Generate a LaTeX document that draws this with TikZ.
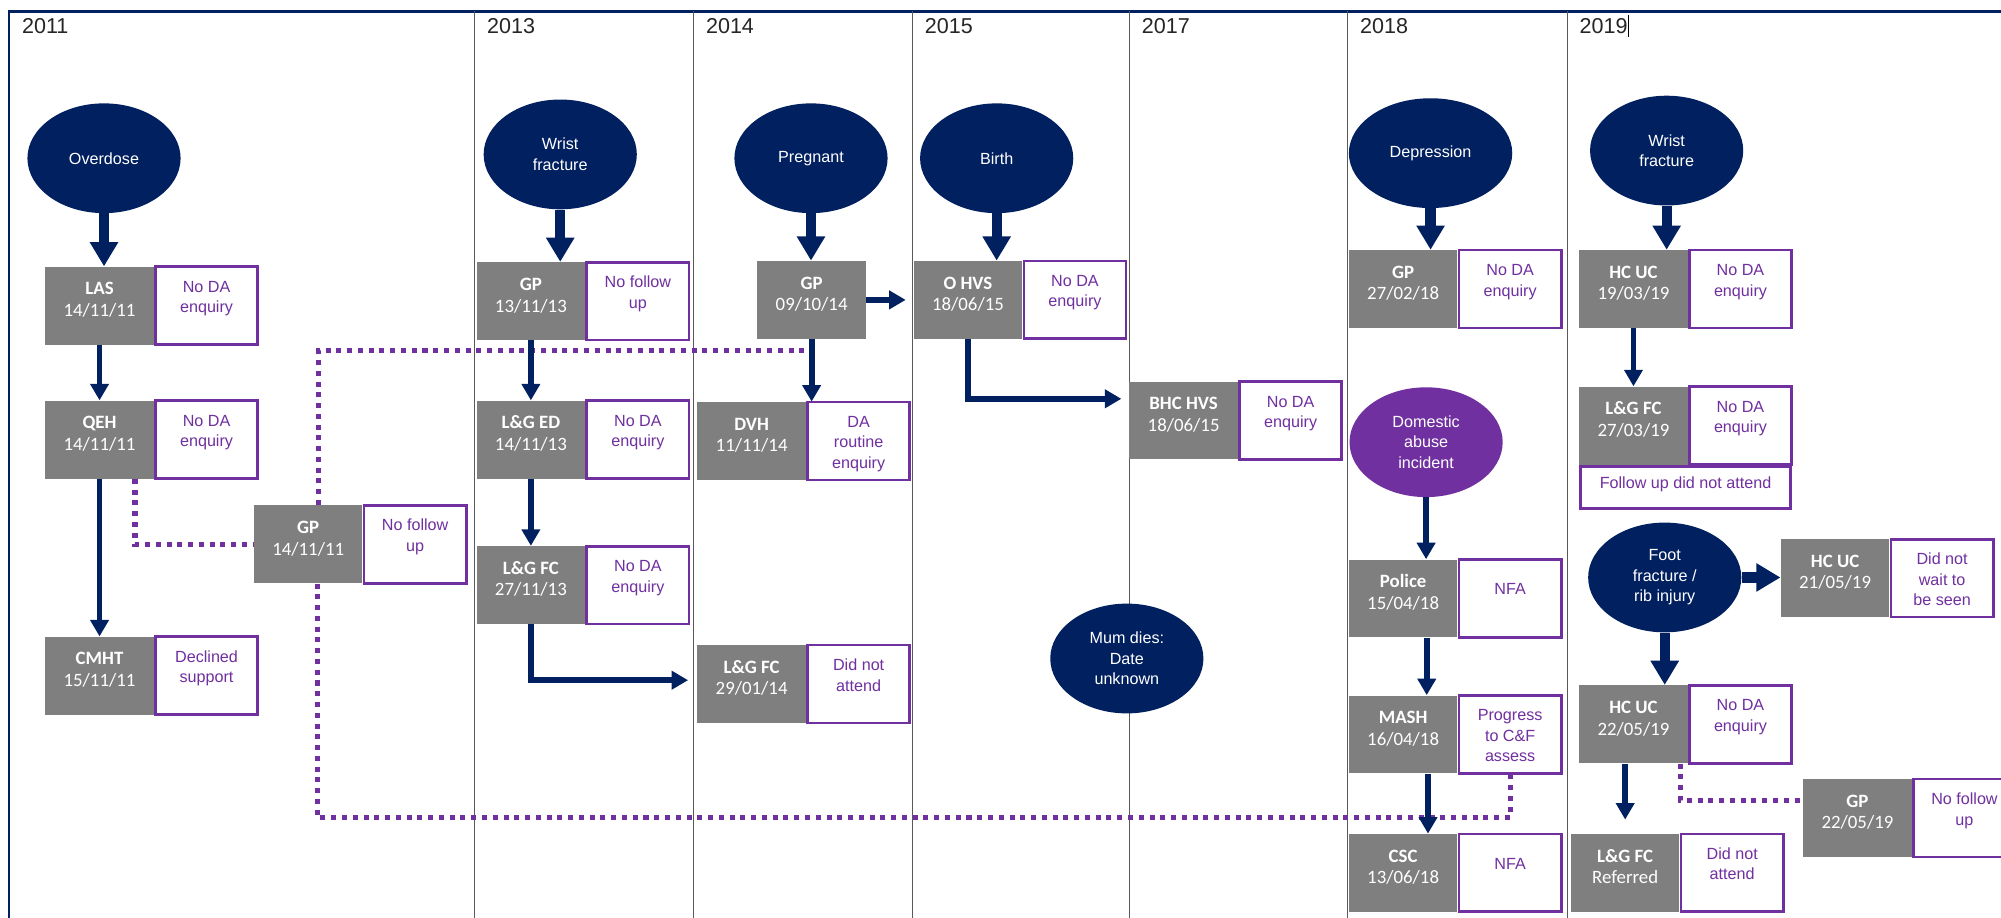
\documentclass[tikz,border=0pt]{standalone}
\usepackage{fontspec}
\setmainfont{Liberation Sans}
\newfontfamily\calfont{Carlito}
\usetikzlibrary{arrows.meta, positioning, shapes.geometric, calc}
\definecolor{navy}{RGB}{0,32,96}
\definecolor{dapurple}{RGB}{112,48,160}
\definecolor{boxgrey}{RGB}{127,127,127}

\begin{document}
\begin{tikzpicture}[
    x=0.025cm, y=-0.025cm,
    agency/.style={fill=boxgrey, text=white, font=\calfont\fontsize{10.5}{12.1}\selectfont,
                   align=center, inner sep=0pt, minimum width=2.125cm,
                   text height=0.975cm, text depth=0.55cm},
    note/.style={draw=dapurple, line width=1.5pt, fill=white, text=dapurple,
                 font=\fontsize{9}{11.4}\selectfont, align=center, inner sep=0pt,
                 minimum width=2.0cm, text height=0.9cm, text depth=0.625cm},
    threeline/.style={text height=1.3cm, text depth=0.225cm},
    oneline/.style={text height=0.69cm, text depth=0.835cm},
    event/.style={ellipse, fill=navy, text=white, font=\fontsize{9}{11.5}\selectfont,
                  align=center, inner sep=0pt, minimum width=3cm, minimum height=2.15cm},
    year/.style={font=\fontsize{12}{14}\selectfont, text=black!85, anchor=base west, inner sep=0pt},
    yearline/.style={black!65, line width=0.6pt},
    bigarr/.style={-{Triangle[length=13.5pt, width=15pt]}, line width=5.7pt, draw=navy},
    arr/.style={-{Triangle[length=9.2pt, width=10pt]}, line width=3.2pt, draw=navy},
    link/.style={draw=dapurple, line width=2.8pt, dash pattern=on 2.8pt off 3.2pt}
]
\useasboundingbox (0,0) rectangle (1568,719);
\clip (0,0) rectangle (1568,719);
\fill[white] (0,0) rectangle (1568,719);

% frame and year columns
\draw[navy, line width=1.2pt] (7,9) rectangle (1600,760);
\draw[yearline] (372,9) -- (372,719);
\draw[yearline] (543.5,9) -- (543.5,719);
\draw[yearline] (715,9) -- (715,719);
\draw[yearline] (885,9) -- (885,719);
\draw[yearline] (1056,9) -- (1056,719);
\draw[yearline] (1228,9) -- (1228,719);

\node[year] (y2011) at (17,26) {2011};
\node[year] (y2013) at (381.5,26) {2013};
\node[year] (y2014) at (553,26) {2014};
\node[year] (y2015) at (724.5,26) {2015};
\node[year] (y2017) at (894.5,26) {2017};
\node[year] (y2018) at (1065.5,26) {2018};
\node[year] (y2019) at (1237.5,26) {2019};
\draw[black, line width=0.5pt] (1276,12) -- (1276,29);

% 2011
\node[event] (overdose) at (81.5,124) {Overdose};
\node[agency] (las) at (78,239.5) {\textbf{LAS}\\14/11/11};
\node[note, right=0pt of las] (lasn) {No DA\\enquiry};
\node[agency] (qeh) at (78,344.5) {\textbf{QEH}\\14/11/11};
\node[note, right=0pt of qeh] (qehn) {No DA\\enquiry};
\node[agency] (cmht) at (78,529.5) {\textbf{CMHT}\\15/11/11};
\node[note, right=0pt of cmht] (cmhtn) {Declined\\support};
\node[agency] (gp11) at (241.5,426.5) {\textbf{GP}\\14/11/11};
\node[note, right=0pt of gp11] (gp11n) {No follow\\up};

% 2013
\node[event] (wrist13) at (439,121) {Wrist\\fracture};
\node[agency] (gp13) at (416,236) {\textbf{GP}\\13/11/13};
\node[note, right=0pt of gp13] (gp13n) {No follow\\up};
\node[agency] (lged) at (416,344.5) {\textbf{L\&G ED}\\14/11/13};
\node[note, right=0pt of lged] (lgedn) {No DA\\enquiry};
\node[agency] (lgfc13) at (416,458.5) {\textbf{L\&G FC}\\27/11/13};
\node[note, right=0pt of lgfc13] (lgfc13n) {No DA\\enquiry};

% 2014
\node[event] (pregnant) at (635.5,124) {Pregnant};
\node[agency] (gp14) at (636,235) {\textbf{GP}\\09/10/14};
\node[agency] (dvh) at (589,345.5) {\textbf{DVH}\\11/11/14};
\node[note, threeline, right=0pt of dvh] (dvhn) {DA\\routine\\enquiry};
\node[agency] (lgfc14) at (589,536) {\textbf{L\&G FC}\\29/01/14};
\node[note, right=0pt of lgfc14] (lgfc14n) {Did not\\attend};

% 2015 / 2017
\node[event] (birth) at (781,124) {Birth};
\node[agency] (ohvs) at (758.5,235) {\textbf{O HVS}\\18/06/15};
\node[note, right=0pt of ohvs] (ohvsn) {No DA\\enquiry};
\node[agency] (bhchvs) at (927.5,329.5) {\textbf{BHC HVS}\\18/06/15};
\node[note, right=0pt of bhchvs] (bhchvsn) {No DA\\enquiry};
\node[event] (mumdies) at (883,516) {Mum dies:\\Date\\unknown};

% 2018
\node[event, minimum width=3.2cm] (depression) at (1121,120) {Depression};
\node[agency] (gp18) at (1099.5,226.5) {\textbf{GP}\\27/02/18};
\node[note, right=0pt of gp18] (gp18n) {No DA\\enquiry};
\node[event, fill=dapurple] (domestic) at (1117.5,346.5) {Domestic\\abuse\\incident};
\node[agency] (police) at (1099.5,469) {\textbf{Police}\\15/04/18};
\node[note, oneline, right=0pt of police] (policen) {NFA};
\node[agency] (mash) at (1099.5,575.5) {\textbf{MASH}\\16/04/18};
\node[note, threeline, right=0pt of mash] (mashn) {Progress\\to C\&F\\assess};
\node[agency] (csc) at (1099.5,684) {\textbf{CSC}\\13/06/18};
\node[note, oneline, right=0pt of csc] (cscn) {NFA};

% 2019
\node[event] (wrist19) at (1306,118) {Wrist\\fracture};
\node[agency] (hcuc19) at (1280,226.5) {\textbf{HC UC}\\19/03/19};
\node[note, right=0pt of hcuc19] (hcuc19n) {No DA\\enquiry};
\node[agency] (lgfc19) at (1280,333.5) {\textbf{L\&G FC}\\27/03/19};
\node[note, right=0pt of lgfc19] (lgfc19n) {No DA\\enquiry};
\node[note, anchor=north west, minimum width=4.125cm, text height=0.44cm, text depth=0.385cm]
    (dnafollow) at (lgfc19.south west) {Follow up did not attend};
\node[event] (foot) at (1304.5,452.5) {Foot\\fracture /\\rib injury};
\node[agency] (hcuc21) at (1438,453) {\textbf{HC UC}\\21/05/19};
\node[note, threeline, right=0pt of hcuc21] (hcuc21n) {Did not\\wait to\\be seen};
\node[agency] (hcuc22) at (1280,567.5) {\textbf{HC UC}\\22/05/19};
\node[note, right=0pt of hcuc22] (hcuc22n) {No DA\\enquiry};
\node[agency] (lgfcref) at (1273.5,684) {\textbf{L\&G FC}\\Referred};
\node[note, right=0pt of lgfcref] (lgfcrefn) {Did not\\attend};
\node[agency] (gp19) at (1455.5,641) {\textbf{GP}\\22/05/19};
\node[note, right=0pt of gp19] (gp19n) {No follow\\up};

% GP contact links (dotted)
\draw[link] ($(qeh.south east)+(-15,0)$) |- (gp11.west);
\draw[link] ($(gp11.north)+(8,0)$) |- ($(gp14.south)+(0,9)$);
\draw[link] ($(gp11.south)+(7,0)$) -- ++(0,183) -| (mashn.south);
\draw[link] ($(hcuc22.south east)+(-6,0)$) |- ($(gp19.west)+(0,-14)$);

% presenting events
\draw[bigarr] (overdose) -- (overdose |- las.north);
\draw[bigarr] (wrist13) -- (wrist13 |- gp13.north);
\draw[bigarr] (pregnant) -- (pregnant |- gp14.north);
\draw[bigarr] (birth) -- (birth |- ohvs.north);
\draw[bigarr] (depression) -- (depression |- gp18.north);
\draw[bigarr] (wrist19) -- (wrist19 |- hcuc19.north);
\draw[bigarr] (foot) -- (foot |- hcuc22.north);
\draw[bigarr] (foot) -- (foot -| hcuc21.west);

% referrals
\draw[arr] (las) -- (qeh);
\draw[arr] (qeh) -- (cmht);
\draw[arr] (gp13) -- (lged);
\draw[arr] (lged) -- (lgfc13);
\draw[arr] (lgfc13.south) |- ($(lgfc14.west)+(-7,-3)$);
\draw[arr] (gp14) -- (gp14 |- dvh.north);
\draw[arr] (gp14.east) -- ($(ohvs.west)+(-6,0)$);
\draw[arr] (ohvs.south) |- ($(bhchvs.west)+(-6,-17)$);
\draw[arr] (domestic) -- (domestic |- police.north);
\draw[arr] ($(police.south)+(18.5,0)$) -- ($(mash.north)+(18.5,0)$);
\draw[arr] ($(mash.south)+(19.5,0)$) -- ($(csc.north)+(19.5,0)$);
\draw[arr] (hcuc19) -- (lgfc19);
\draw[arr] (hcuc22.south -| lgfcref) -- ($(lgfcref.north)+(0,-11)$);
\end{tikzpicture}
\end{document}
